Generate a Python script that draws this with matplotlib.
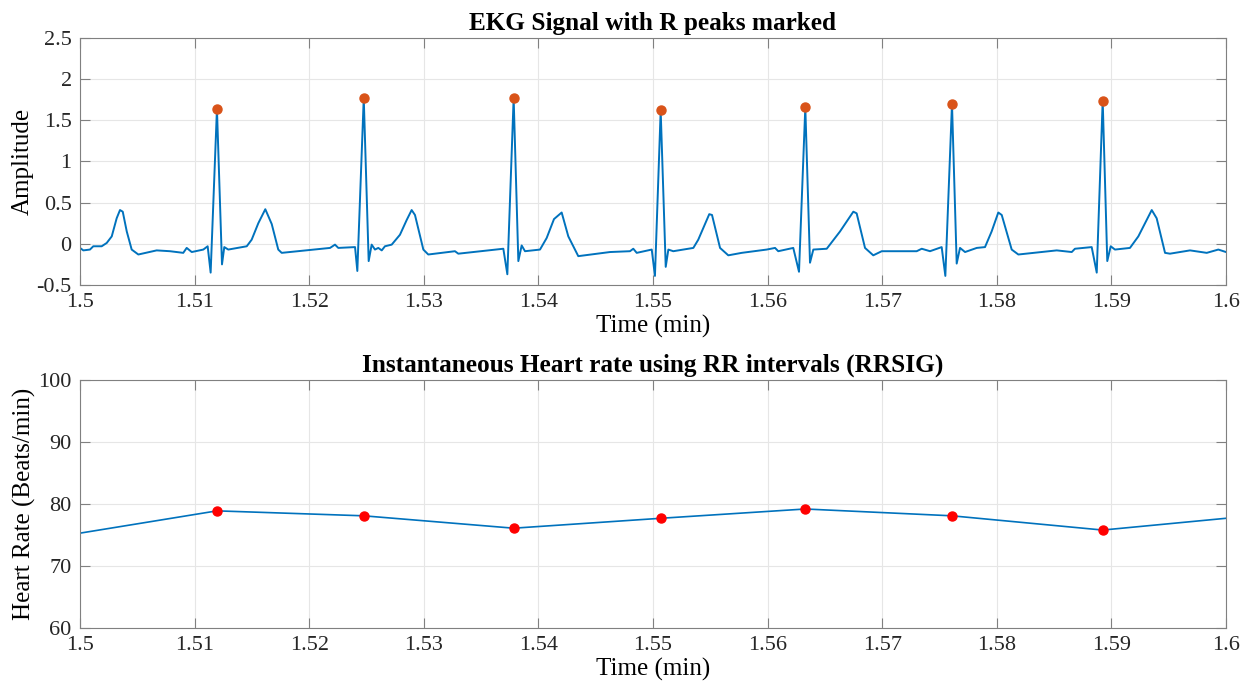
import matplotlib.pyplot as plt

plt.rcParams['font.family'] = ['Liberation Serif', 'DejaVu Serif']

# EKG trace (time in min, amplitude)
ekg_t = [1.50000, 1.50029, 1.50087, 1.50116, 1.50189, 1.50233, 1.50277, 1.50320, 1.50349, 1.50373,
         1.50408, 1.50451, 1.50509, 1.50669, 1.50785, 1.50901, 1.50931, 1.50975, 1.51076, 1.51114,
         1.51140, 1.51195, 1.51239, 1.51259, 1.51294, 1.51455, 1.51498, 1.51556, 1.51617, 1.51673,
         1.51730, 1.51760, 1.52182, 1.52225, 1.52254, 1.52400, 1.52420, 1.52476, 1.52519, 1.52545,
         1.52574, 1.52603, 1.52633, 1.52661, 1.52720, 1.52792, 1.52851, 1.52894, 1.52923, 1.52996,
         1.53039, 1.53272, 1.53301, 1.53694, 1.53729, 1.53784, 1.53825, 1.53854, 1.53883, 1.54014,
         1.54072, 1.54136, 1.54203, 1.54261, 1.54348, 1.54625, 1.54799, 1.54828, 1.54858, 1.54989,
         1.55017, 1.55067, 1.55111, 1.55134, 1.55177, 1.55352, 1.55395, 1.55491, 1.55515, 1.55585,
         1.55657, 1.55774, 1.55992, 1.56065, 1.56093, 1.56224, 1.56274, 1.56329, 1.56370, 1.56399,
         1.56516, 1.56632, 1.56748, 1.56777, 1.56850, 1.56922, 1.56996, 1.57301, 1.57345, 1.57417,
         1.57519, 1.57551, 1.57609, 1.57650, 1.57679, 1.57723, 1.57825, 1.57897, 1.57955, 1.58013,
         1.58043, 1.58130, 1.58188, 1.58523, 1.58654, 1.58682, 1.58828, 1.58872, 1.58924, 1.58964,
         1.58994, 1.59031, 1.59162, 1.59235, 1.59352, 1.59395, 1.59468, 1.59511, 1.59686, 1.59832,
         1.59933, 1.60000]
ekg_v = [-0.05, -0.08, -0.07, -0.03, -0.03, 0.01, 0.09, 0.31, 0.41, 0.39,
         0.15, -0.07, -0.13, -0.08, -0.09, -0.11, -0.05, -0.10, -0.07, -0.03,
         -0.35, 1.64, -0.25, -0.04, -0.07, -0.03, 0.05, 0.25, 0.42, 0.24,
         -0.07, -0.11, -0.05, -0.01, -0.05, -0.04, -0.33, 1.77, -0.21, -0.01,
         -0.07, -0.05, -0.08, -0.03, -0.01, 0.11, 0.29, 0.41, 0.35, -0.07,
         -0.13, -0.09, -0.12, -0.06, -0.37, 1.77, -0.21, -0.02, -0.09, -0.07,
         0.07, 0.30, 0.38, 0.09, -0.15, -0.10, -0.09, -0.06, -0.11, -0.07,
         -0.39, 1.62, -0.28, -0.07, -0.09, -0.05, 0.05, 0.36, 0.35, -0.05,
         -0.14, -0.11, -0.07, -0.05, -0.09, -0.05, -0.34, 1.66, -0.23, -0.07,
         -0.06, 0.15, 0.39, 0.37, -0.05, -0.14, -0.09, -0.09, -0.06, -0.09,
         -0.04, -0.39, 1.70, -0.24, -0.05, -0.10, -0.05, -0.04, 0.15, 0.38,
         0.35, -0.07, -0.13, -0.08, -0.10, -0.06, -0.04, -0.35, 1.74, -0.21,
         -0.03, -0.07, -0.05, 0.09, 0.41, 0.31, -0.11, -0.12, -0.08, -0.11,
         -0.07, -0.10]

# R peaks
r_t = [1.51195, 1.52476, 1.53784, 1.55067, 1.56329, 1.57609, 1.58924]
r_v = [1.64, 1.77, 1.77, 1.62, 1.66, 1.70, 1.74]

# instantaneous heart rate
hr_t = [1.50000] + r_t + [1.60000]
hr_v = [75.3, 78.9, 78.1, 76.1, 77.7, 79.2, 78.1, 75.8, 77.7]
hr_mark_v = hr_v[1:-1]

blue = '#0072BD'
spine = '#808080'
xt = [1.5 + 0.01 * i for i in range(11)]
xtl = ['1.5', '1.51', '1.52', '1.53', '1.54', '1.55', '1.56', '1.57', '1.58', '1.59', '1.6']


def style(ax):
    ax.grid(True, color='#e6e6e6', linewidth=0.8)
    ax.set_axisbelow(True)
    for s in ax.spines.values():
        s.set_color(spine)
        s.set_linewidth(0.8)
    ax.tick_params(direction='in', length=7.5, width=0.8, color=spine,
                   top=True, right=True, labelsize=16, labelcolor='#262626', pad=6)


fig = plt.figure(figsize=(12.5, 6.9), dpi=100)

ax1 = fig.add_axes([0.064, 0.587, 0.9168, 0.358])
ax1.plot(ekg_t, ekg_v, color=blue, linewidth=1.4)
ax1.plot(r_t, r_v, 'o', color='#D95319', markersize=6.5, linestyle='none')
ax1.set_xlim(1.5, 1.6)
ax1.set_ylim(-0.5, 2.5)
ax1.set_xticks(xt)
ax1.set_xticklabels(xtl)
ax1.set_yticks([-0.5, 0, 0.5, 1, 1.5, 2, 2.5])
ax1.set_yticklabels(['-0.5', '0', '0.5', '1', '1.5', '2', '2.5'])
style(ax1)
ax1.set_xlabel('Time (min)', fontsize=18, labelpad=2)
ax1.set_ylabel('Amplitude', fontsize=18, labelpad=2)
ax1.set_title('EKG Signal with R peaks marked', fontsize=18.2, fontweight='bold', pad=6)

ax2 = fig.add_axes([0.064, 0.09, 0.9168, 0.359])
ax2.plot(hr_t, hr_v, color=blue, linewidth=1.2)
ax2.plot(r_t, hr_mark_v, 'o', color='#FF0000', markersize=6.5, linestyle='none')
ax2.set_xlim(1.5, 1.6)
ax2.set_ylim(60, 100)
ax2.set_xticks(xt)
ax2.set_xticklabels(xtl)
ax2.set_yticks([60, 70, 80, 90, 100])
style(ax2)
ax2.set_xlabel('Time (min)', fontsize=18, labelpad=2)
ax2.set_ylabel('Heart Rate (Beats/min)', fontsize=18, labelpad=1.5)
ax2.set_title('Instantaneous Heart rate using RR intervals (RRSIG)', fontsize=18.2, fontweight='bold', pad=6)

fig.savefig('out.png', dpi=100)
